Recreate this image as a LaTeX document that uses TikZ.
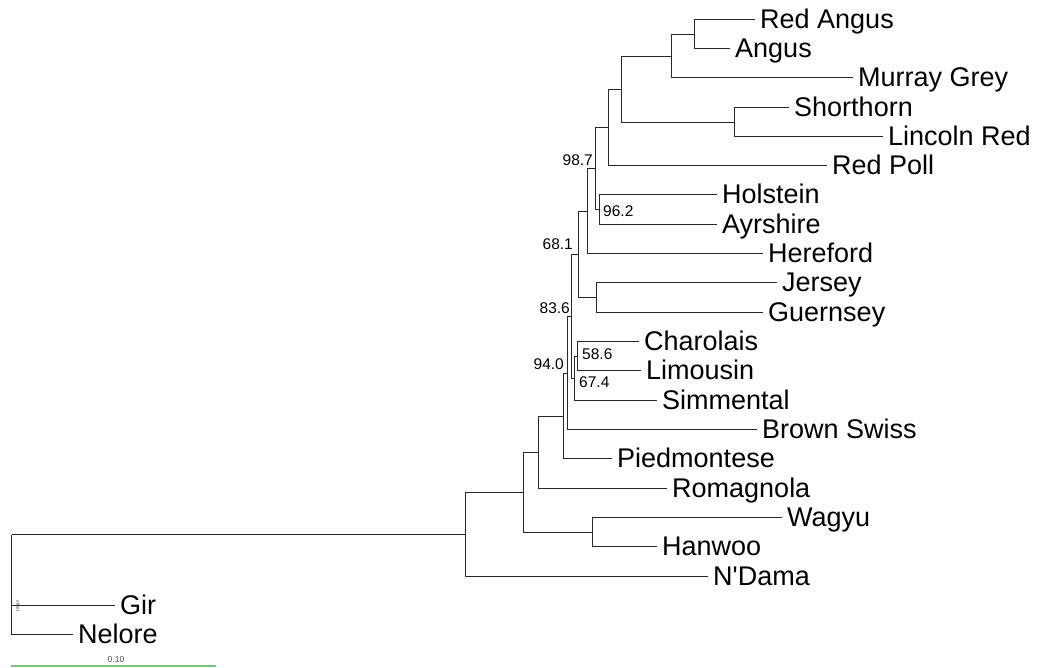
\documentclass[tikz,border=0pt]{standalone}
\usepackage{fontspec}
\setmainfont{Liberation Sans}[Ligatures=TeXOff]
\definecolor{scalegreen}{RGB}{125,195,125}
\definecolor{branchgray}{RGB}{40,40,40}
\begin{document}
\begin{tikzpicture}[x=1pt,y=-1pt,
  br/.style={line width=1.9pt, draw=branchgray},
  leaf/.style={anchor=base west, inner sep=0pt, xshift=5pt, yshift=-9.3pt, font=\fontsize{27}{31}\selectfont},
  bootl/.style={anchor=east, inner sep=0pt, font=\fontsize{15.5}{18}\selectfont},
  bootr/.style={anchor=west, inner sep=0pt, font=\fontsize{15.5}{18}\selectfont}]
\useasboundingbox (0,0) rectangle (1039,668);
% leaf tips
\coordinate (tRA) at (755,19.5);
\coordinate (tAn) at (730,48.5);
\coordinate (tMG) at (853,77.5);
\coordinate (tSh) at (789,107.5);
\coordinate (tLR) at (883,136.5);
\coordinate (tRP) at (827,165.5);
\coordinate (tHo) at (717,194.5);
\coordinate (tAy) at (717,224.5);
\coordinate (tHe) at (763,253.5);
\coordinate (tJe) at (777,282.5);
\coordinate (tGu) at (763,312.5);
\coordinate (tCh) at (639,341.5);
\coordinate (tLi) at (641,370.5);
\coordinate (tSi) at (657,400.5);
\coordinate (tBS) at (757,429.5);
\coordinate (tPi) at (612,458.5);
\coordinate (tRo) at (667,488.5);
\coordinate (tWa) at (782,517.5);
\coordinate (tHa) at (657,546.5);
\coordinate (tND) at (708,576.5);
\coordinate (tGi) at (115,605.5);
\coordinate (tNe) at (73,634.5);
% internal nodes
\coordinate (nRA) at (694.5,34.5);
\coordinate (nMG) at (671.5,56.5);
\coordinate (nSL) at (734.5,122.5);
\coordinate (nL) at (621.5,89.5);
\coordinate (nK) at (608.5,127.5);
\coordinate (nHA) at (599.5,209.5);
\coordinate (nJ) at (595.5,168.5);
\coordinate (nI) at (587.5,211.5);
\coordinate (nJG) at (596.5,297.5);
\coordinate (nH) at (578.5,254.5);
\coordinate (nCL) at (577.5,356.5);
\coordinate (nG) at (574.5,378.5);
\coordinate (nF) at (571.5,316.5);
\coordinate (nE) at (567.5,373.5);
\coordinate (nD) at (563.5,416.5);
\coordinate (nC) at (538.5,452.5);
\coordinate (nWH) at (592.5,532.5);
\coordinate (nB) at (523.5,492.5);
\coordinate (nA) at (465.5,534.5);
\coordinate (root) at (11.5,534.5);
% branches
\draw[br] (nRA) |- (tRA); \draw[br] (nRA) |- (tAn);
\draw[br] (nMG) |- (nRA); \draw[br] (nMG) |- (tMG);
\draw[br] (nSL) |- (tSh); \draw[br] (nSL) |- (tLR);
\draw[br] (nL) |- (nMG); \draw[br] (nL) |- (nSL);
\draw[br] (nK) |- (nL); \draw[br] (nK) |- (tRP);
\draw[br] (nHA) |- (tHo); \draw[br] (nHA) |- (tAy);
\draw[br] (nJ) |- (nK); \draw[br] (nJ) |- (nHA);
\draw[br] (nI) |- (nJ); \draw[br] (nI) |- (tHe);
\draw[br] (nJG) |- (tJe); \draw[br] (nJG) |- (tGu);
\draw[br] (nH) |- (nI); \draw[br] (nH) |- (nJG);
\draw[br] (nCL) |- (tCh); \draw[br] (nCL) |- (tLi);
\draw[br] (nG) |- (nCL); \draw[br] (nG) |- (tSi);
\draw[br] (nF) |- (nH); \draw[br] (nF) |- (nG);
\draw[br] (nE) |- (nF); \draw[br] (nE) |- (tBS);
\draw[br] (nD) |- (nE); \draw[br] (nD) |- (tPi);
\draw[br] (nC) |- (nD); \draw[br] (nC) |- (tRo);
\draw[br] (nWH) |- (tWa); \draw[br] (nWH) |- (tHa);
\draw[br] (nB) |- (nC); \draw[br] (nB) |- (nWH);
\draw[br] (nA) |- (nB); \draw[br] (nA) |- (tND);
\draw[br] (root) -- (nA); \draw[br] (root) |- (tGi); \draw[br] (root) |- (tNe);
% leaf labels
\node[leaf] (lRA) at (tRA) {Red Angus};
\node[leaf] (lAn) at (tAn) {Angus};
\node[leaf] (lMG) at (tMG) {Murray Grey};
\node[leaf] (lSh) at (tSh) {Shorthorn};
\node[leaf] (lLR) at (tLR) {Lincoln Red};
\node[leaf] (lRP) at (tRP) {Red Poll};
\node[leaf] (lHo) at (tHo) {Holstein};
\node[leaf] (lAy) at (tAy) {Ayrshire};
\node[leaf] (lHe) at (tHe) {Hereford};
\node[leaf] (lJe) at (tJe) {Jersey};
\node[leaf] (lGu) at (tGu) {Guernsey};
\node[leaf] (lCh) at (tCh) {Charolais};
\node[leaf] (lLi) at (tLi) {Limousin};
\node[leaf] (lSi) at (tSi) {Simmental};
\node[leaf] (lBS) at (tBS) {Brown Swiss};
\node[leaf] (lPi) at (tPi) {Piedmontese};
\node[leaf] (lRo) at (tRo) {Romagnola};
\node[leaf] (lWa) at (tWa) {Wagyu};
\node[leaf] (lHa) at (tHa) {Hanwoo};
\node[leaf] (lND) at (tND) {N'Dama};
\node[leaf] (lGi) at (tGi) {Gir};
\node[leaf] (lNe) at (tNe) {Nelore};
% bootstrap values
\node[bootl] (b987) at (593,160) {98.7};
\node[bootr] (b962) at (603,211) {96.2};
\node[bootl] (b681) at (573,244) {68.1};
\node[bootl] (b836) at (570,308) {83.6};
\node[bootr] (b586) at (582,354) {58.6};
\node[bootl] (b940) at (564,364) {94.0};
\node[bootr] (b674) at (579,382) {67.4};
% tiny rotated text
\node[inner sep=0pt, rotate=-90, font=\fontsize{4.5}{5}\selectfont, text=black!75] (off) at (18,606) {offset};
% scale bar
\coordinate (sb1) at (11,666);
\coordinate (sb2) at (216,666);
\draw[draw=scalegreen, line width=1.1pt] (sb1) -- (sb2);
\node[inner sep=0pt, font=\fontsize{8.5}{10}\selectfont, text=black!70] (sbl) at (116,660) {0.10};
\end{tikzpicture}
\end{document}
